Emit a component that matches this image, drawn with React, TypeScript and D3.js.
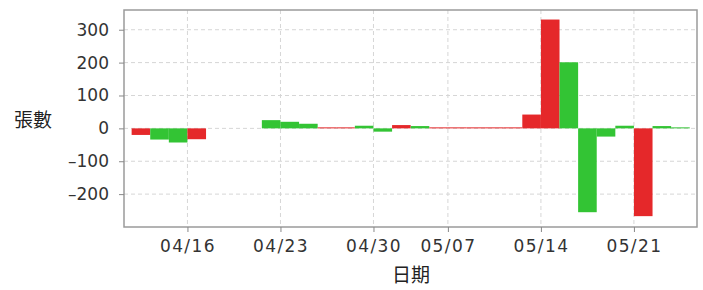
import React, { useEffect, useRef } from "react";
import * as d3 from "d3";

// trading days (2018), Taiwan market
const dates = [
  "04/11", "04/12", "04/13", "04/16", "04/17", "04/18", "04/19", "04/20",
  "04/23", "04/24", "04/25", "04/26", "04/27", "04/30", "05/02", "05/03",
  "05/04", "05/07", "05/08", "05/09", "05/10", "05/11", "05/14", "05/15",
  "05/16", "05/17", "05/18", "05/21", "05/22", "05/23",
];

// 張數 per day
const values = [
  -20, -34, -43, -33, 0, 0, 0, 25,
  20, 14, 1, 1, 8, -10, 10, 7,
  1, 1, 1, 1, 1, 42, 331, 201,
  -255, -25, 8, -267, 7, 2,
];

// bar side: "r" = red, "g" = green
const sides = [
  "r", "g", "g", "r", "g", "g", "g", "g",
  "g", "g", "r", "r", "g", "g", "r", "g",
  "r", "r", "r", "r", "r", "r", "r", "g",
  "g", "g", "g", "r", "g", "g",
];

const xTickLabels = ["04/16", "04/23", "04/30", "05/07", "05/14", "05/21"];
const yTicks = [-200, -100, 0, 100, 200, 300];

const W = 703;
const H = 290;

export default function App() {
  const svgRef = useRef<SVGSVGElement | null>(null);

  useEffect(() => {
    if (!svgRef.current) return;
    const svg = d3.select(svgRef.current);
    svg.selectAll("*").remove();

    const left = 124, right = 697, top = 10, bottom = 227;

    const x = d3.scaleLinear().domain([-0.41, 30.39]).range([left, right]);
    const y = d3.scaleLinear().domain([-300, 360]).range([bottom, top]);
    const color = d3.scaleOrdinal<string, string>().domain(["r", "g"]).range(["#e5282a", "#33c434"]);

    const tickIdx = xTickLabels.map(l => dates.indexOf(l));

    // grid
    const grid = svg.append("g").attr("stroke", "#d6d6d6").attr("stroke-dasharray", "4,3");
    yTicks.forEach(t => {
      grid.append("line").attr("x1", left).attr("x2", right).attr("y1", y(t)).attr("y2", y(t));
    });
    tickIdx.forEach(i => {
      grid.append("line").attr("x1", x(i)).attr("x2", x(i)).attr("y1", top).attr("y2", bottom);
    });

    // bars
    svg.append("g")
      .selectAll("rect")
      .data(values.map((v, i) => ({ v, i })).filter(d => d.v !== 0))
      .join("rect")
      .attr("x", d => x(d.i))
      .attr("width", d => x(d.i + 1) - x(d.i))
      .attr("y", d => Math.min(y(d.v), y(0)) - (Math.abs(y(d.v) - y(0)) < 1 && d.v > 0 ? 1 - Math.abs(y(d.v) - y(0)) : 0))
      .attr("height", d => Math.max(1, Math.abs(y(d.v) - y(0))))
      .attr("fill", d => color(sides[d.i]));

    // frame
    svg.append("rect")
      .attr("x", left).attr("y", top)
      .attr("width", right - left).attr("height", bottom - top)
      .attr("fill", "none").attr("stroke", "#9a9a9a").attr("stroke-width", 1.5);

    // axes
    const yAxis = svg.append("g")
      .attr("transform", `translate(${left},0)`)
      .call(d3.axisLeft(y).tickValues(yTicks).tickSize(5).tickPadding(10)
        .tickFormat(d => (+d < 0 ? "\u2013" + Math.abs(+d) : String(d))));
    yAxis.select(".domain").remove();
    yAxis.selectAll("line").attr("stroke", "#888");
    yAxis.selectAll("text")
      .attr("fill", "#333")
      .style("font-family", "'DejaVu Sans', sans-serif")
      .style("font-size", "17px");

    const xAxis = svg.append("g")
      .attr("transform", `translate(0,${bottom})`)
      .call(d3.axisBottom(x).tickValues(tickIdx).tickSize(5).tickPadding(6)
        .tickFormat((d, k) => xTickLabels[k]));
    xAxis.select(".domain").remove();
    xAxis.selectAll("line").attr("stroke", "#888");
    xAxis.selectAll("text")
      .attr("fill", "#333")
      .attr("dy", "0.85em")
      .style("font-family", "'DejaVu Sans', sans-serif")
      .style("font-size", "17px")
      .style("letter-spacing", "1.4px");

    // axis titles
    svg.append("text")
      .attr("x", 33).attr("y", 118)
      .attr("text-anchor", "middle").attr("dominant-baseline", "central")
      .style("font-family", "'Noto Sans CJK TC', sans-serif")
      .style("font-size", "19px")
      .attr("fill", "#222")
      .text("張數");
    svg.append("text")
      .attr("x", 411).attr("y", 273)
      .attr("text-anchor", "middle").attr("dominant-baseline", "central")
      .style("font-family", "'Noto Sans CJK TC', sans-serif")
      .style("font-size", "19px")
      .attr("fill", "#222")
      .text("日期");
  }, []);

  return (
    <svg
      ref={svgRef}
      width={W}
      height={H}
      style={{ position: "absolute", left: 0, top: 0, background: "#fff" }}
    />
  );
}
